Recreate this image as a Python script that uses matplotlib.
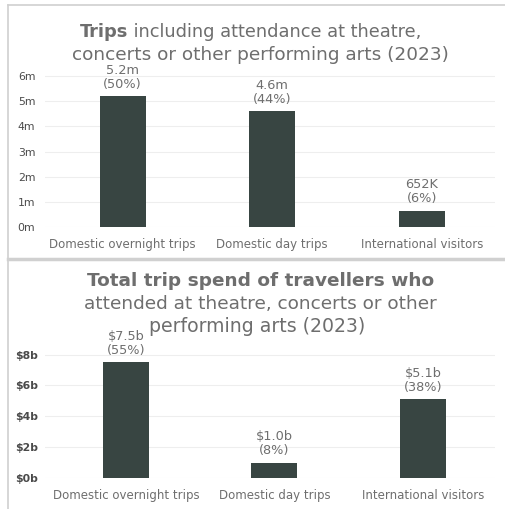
import matplotlib
matplotlib.use("Agg")
import matplotlib.pyplot as plt
from matplotlib.lines import Line2D

# data
categories = ["Domestic overnight trips", "Domestic day trips", "International visitors"]
trips_m = [5.2, 4.6, 0.652]
trips_labels = ["5.2m\n(50%)", "4.6m\n(44%)", "652K\n(6%)"]
trips_ticks = [0, 1, 2, 3, 4, 5, 6]
trips_ticklabels = ["0m", "1m", "2m", "3m", "4m", "5m", "6m"]

spend_b = [7.5, 1.0, 5.1]
spend_labels = ["$7.5b\n(55%)", "$1.0b\n(8%)", "$5.1b\n(38%)"]
spend_ticks = [0, 2, 4, 6, 8]
spend_ticklabels = ["$0b", "$2b", "$4b", "$6b", "$8b"]

BAR = "#384542"
TXT = "#6e6e6e"
TICK = "#4a4a4a"
W, H = 505, 509

fig = plt.figure(figsize=(W / 100, H / 100), dpi=100)
fig.patch.set_facecolor("white")


def px_axes(x0, y_top, x1, y_bot):
    return fig.add_axes([x0 / W, 1 - y_bot / H, (x1 - x0) / W, (y_bot - y_top) / H])


def style(ax, ticks, ticklabels, bold_ticks=False):
    for s in ax.spines.values():
        s.set_visible(False)
    ax.set_yticks(ticks)
    ax.set_yticklabels(ticklabels, color=TICK, fontsize=7.8,
                       fontweight="bold" if bold_ticks else "normal")
    ax.tick_params(axis="y", length=0, pad=7)
    ax.tick_params(axis="x", length=0, pad=8)
    ax.set_xticks(range(len(categories)))
    ax.set_xticklabels(categories, color=TXT, fontsize=8.5)
    ax.grid(axis="y", color="#eeeeee", linewidth=0.8)
    ax.set_axisbelow(True)


def bar_labels(ax, vals, labels):
    for i, (v, t) in enumerate(zip(vals, labels)):
        ax.annotate(t, (i, v), xytext=(0, 4), textcoords="offset points",
                    ha="center", va="bottom", color=TXT, fontsize=9.3, linespacing=1.1)


# top panel
ax1 = px_axes(45, 71, 495, 227)
ax1.bar(range(3), trips_m, width=0.31, color=BAR)
ax1.set_ylim(0, 6.2)
ax1.set_xlim(-0.52, 2.49)
style(ax1, trips_ticks, trips_ticklabels)
bar_labels(ax1, trips_m, trips_labels)

# bottom panel
ax2 = px_axes(45, 350, 495, 478)
ax2.bar(range(3), spend_b, width=0.31, color=BAR)
ax2.set_ylim(0, 8.3)
ax2.set_xlim(-0.545, 2.485)
style(ax2, spend_ticks, spend_ticklabels, bold_ticks=True)
ax2.tick_params(axis="y", pad=5)
bar_labels(ax2, spend_b, spend_labels)

# titles (mixed bold / normal on one line -> measure and place pieces)
fig.canvas.draw()
r = fig.canvas.get_renderer()


def mixed_line(parts, y_px, size, cx):
    texts = [fig.text(0, 1 - y_px / H, s, fontsize=size, color=TXT,
                      fontweight=w, va="center", ha="left") for s, w in parts]
    widths = [t.get_window_extent(r).width for t in texts]
    x = cx - sum(widths) / 2
    for t, w in zip(texts, widths):
        t.set_x(x / W)
        x += w


mixed_line([("Trips", "bold"), (" including attendance at theatre,", "normal")], 32, 12.8, 251)
mixed_line([("concerts or other performing arts (2023)", "normal")], 55, 13.3, 260)
mixed_line([("Total trip spend of travellers who", "bold")], 281, 13.3, 261)
mixed_line([("attended at theatre, concerts or other", "normal")], 304, 13.3, 260)
mixed_line([("performing arts (2023)", "normal")], 327, 13.6, 257)

# frame lines
fc = "#d0d0d0"
fig.add_artist(Line2D([8 / W, 8 / W], [0, 1 - 5 / H], color=fc, lw=1.2))
fig.add_artist(Line2D([8 / W, 1], [1 - 5 / H, 1 - 5 / H], color=fc, lw=1.2))
fig.add_artist(Line2D([8 / W, 1], [1 - 259 / H, 1 - 259 / H], color=fc, lw=2.5))

fig.savefig("out.png", dpi=100, facecolor="white")
